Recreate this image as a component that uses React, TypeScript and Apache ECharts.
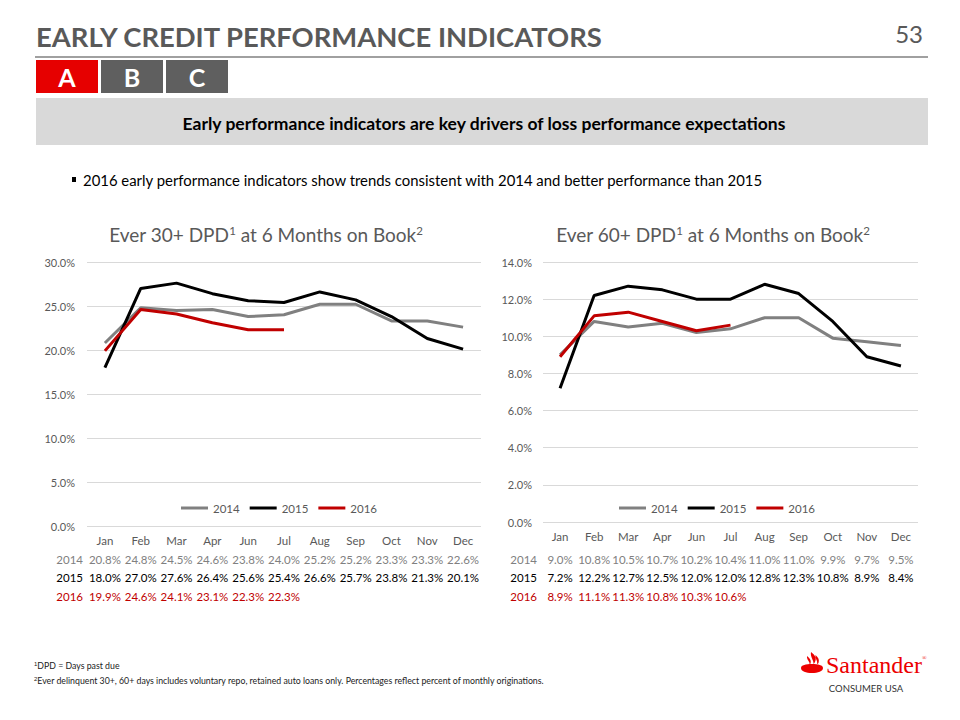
import React, { useEffect, useRef } from 'react';
import * as echarts from 'echarts';

const months = ['Jan', 'Feb', 'Mar', 'Apr', 'Jun', 'Jul', 'Aug', 'Sep', 'Oct', 'Nov', 'Dec'];
const years = ['2014', '2015', '2016'];
const dpd30_2014 = [20.8, 24.8, 24.5, 24.6, 23.8, 24.0, 25.2, 25.2, 23.3, 23.3, 22.6];
const dpd30_2015 = [18.0, 27.0, 27.6, 26.4, 25.6, 25.4, 26.6, 25.7, 23.8, 21.3, 20.1];
const dpd30_2016 = [19.9, 24.6, 24.1, 23.1, 22.3, 22.3];
const dpd60_2014 = [9.0, 10.8, 10.5, 10.7, 10.2, 10.4, 11.0, 11.0, 9.9, 9.7, 9.5];
const dpd60_2015 = [7.2, 12.2, 12.7, 12.5, 12.0, 12.0, 12.8, 12.3, 10.8, 8.9, 8.4];
const dpd60_2016 = [8.9, 11.1, 11.3, 10.8, 10.3, 10.6];
const yAxis30 = { min: 0, max: 30, interval: 5 };
const yAxis60 = { min: 0, max: 14, interval: 2 };

const yearColors = ['#808080', '#000000', '#c00000'];
const FONT = 'Lato, "Open Sans", sans-serif';

const FLAME =
  'M2,16 C2,13 7,12 13,12 C19,12 24,13 24,16 C24,19.5 19,21 13,21 C7,21 2,19.5 2,16 Z ' +
  'M12,0 C16,3 18,6 16,10 C15.5,11 15,11.5 14.5,12 C15,8.5 11,5 12,0 Z ' +
  'M8,4 C11,6.5 12.5,8.5 11.5,11.5 C11.2,12 11,12 10.5,12 C11,9.5 7.5,8 8,4 Z ' +
  'M16.5,3 C19.5,5.5 20.5,8 19.5,11 C19,11.6 18.6,11.8 18,12 C19,9 16,6.5 16.5,3 Z';

echarts.graphic.registerShape('flame', echarts.graphic.extendPath(FLAME, {}));

function fmt(v: number | undefined) {
  return v == null ? '' : v.toFixed(1) + '%';
}

function buildChart(idx: number, data: number[][], yCfg: any, labelMargin: number, axisY: number, rowTops: number[], nameGap: number) {
  const xAxes: any[] = [
    {
      type: 'category',
      gridIndex: idx,
      data: months,
      boundaryGap: true,
      axisLine: { show: false },
      axisTick: { show: false },
      axisLabel: { color: '#595959', fontSize: 11.5, margin: 8, fontFamily: FONT, interval: 0 },
    },
  ];
  years.forEach((y, i) => {
    const row = months.map((_, j) => fmt(data[i][j]));
    xAxes.push({
      type: 'category',
      gridIndex: idx,
      position: 'bottom',
      offset: rowTops[i] - axisY,
      data: row,
      boundaryGap: true,
      axisLine: { show: false },
      axisTick: { show: false },
      splitLine: { show: false },
      axisLabel: { color: yearColors[i], fontSize: 11.5, margin: 0, fontFamily: FONT, interval: 0 },
      name: y,
      nameLocation: 'start',
      nameGap,
      nameTextStyle: { color: yearColors[i], fontSize: 11.5, fontFamily: FONT, verticalAlign: 'top', align: 'right' },
    });
  });
  const yAxis = {
    type: 'value',
    gridIndex: idx,
    min: yCfg.min,
    max: yCfg.max,
    interval: yCfg.interval,
    axisLine: { show: false },
    axisTick: { show: false },
    splitLine: { lineStyle: { color: '#d9d9d9', width: 1 } },
    axisLabel: {
      color: '#595959',
      fontSize: 11,
      margin: labelMargin,
      fontFamily: FONT,
      formatter: (v: number) => v.toFixed(1) + '%',
    },
  };
  const series = years.map((y, i) => ({
    type: 'line',
    name: y,
    xAxisIndex: idx * 4,
    yAxisIndex: idx,
    data: data[i],
    symbol: 'none',
    color: yearColors[i],
    lineStyle: { width: 3, color: yearColors[i] },
  }));
  return { xAxes, yAxis, series };
}

export default function App() {
  const ref = useRef<HTMLDivElement>(null);
  useEffect(() => {
    if (!ref.current) return;
    const chart = echarts.init(ref.current, null, { renderer: 'svg' });
    const left = buildChart(0, [dpd30_2014, dpd30_2015, dpd30_2016], yAxis30, 12, 526, [553, 571, 590], 4);
    const right = buildChart(1, [dpd60_2014, dpd60_2015, dpd60_2016], yAxis60, 11, 522, [553, 571, 590], 6);
    const legendBase = {
      data: years,
      icon: 'rect',
      itemWidth: 27,
      itemHeight: 3,
      itemGap: 10,
      padding: 0,
      textStyle: { color: '#595959', fontSize: 11.5, fontFamily: FONT },
    };
    const titleRich = { s: { fontSize: 11.5, verticalAlign: 'top', fill: '#595959', fontFamily: FONT } };
    const option: any = {
      animation: false,
      backgroundColor: '#ffffff',
      textStyle: { fontFamily: FONT },
      grid: [
        { left: 87, right: 960 - 481, top: 262, bottom: 720 - 526 },
        { left: 543, right: 960 - 918, top: 262, bottom: 720 - 522 },
      ],
      xAxis: [...left.xAxes, ...right.xAxes],
      yAxis: [left.yAxis, right.yAxis],
      series: [...left.series, ...right.series],
      legend: [
        { ...legendBase, left: 181, top: 502 },
        { ...legendBase, left: 619, top: 502 },
      ],
      graphic: [
        {
          type: 'text',
          style: {
            x: 36,
            y: 36,
            text: 'EARLY CREDIT PERFORMANCE INDICATORS',
            font: 'bold 27.4px Lato, sans-serif',
            fill: '#595959',
            verticalAlign: 'middle',
          },
        },
        {
          type: 'text',
          style: { x: 923, y: 33, text: '53', font: '24px Lato, sans-serif', fill: '#595959', align: 'right', verticalAlign: 'middle' },
        },
        { type: 'line', shape: { x1: 35, y1: 57, x2: 928, y2: 57 }, style: { stroke: '#808080', lineWidth: 1.5 } },
        { type: 'rect', shape: { x: 36, y: 60, width: 62, height: 33 }, style: { fill: '#e60000' } },
        { type: 'rect', shape: { x: 101, y: 60, width: 62, height: 33 }, style: { fill: '#5f5f5f' } },
        { type: 'rect', shape: { x: 166, y: 60, width: 62, height: 33 }, style: { fill: '#5f5f5f' } },
        { type: 'text', style: { x: 67, y: 77, text: 'A', font: 'bold 25px Lato, sans-serif', fill: '#ffffff', align: 'center', verticalAlign: 'middle' } },
        { type: 'text', style: { x: 132, y: 77, text: 'B', font: 'bold 25px Lato, sans-serif', fill: '#ffffff', align: 'center', verticalAlign: 'middle' } },
        { type: 'text', style: { x: 197, y: 77, text: 'C', font: 'bold 25px Lato, sans-serif', fill: '#ffffff', align: 'center', verticalAlign: 'middle' } },
        { type: 'rect', shape: { x: 36, y: 98, width: 892, height: 47 }, style: { fill: '#d9d9d9' } },
        {
          type: 'text',
          style: {
            x: 484,
            y: 123,
            text: 'Early performance indicators are key drivers of loss performance expectations',
            font: 'bold 17.5px Lato, sans-serif',
            fill: '#000000',
            align: 'center',
            verticalAlign: 'middle',
          },
        },
        { type: 'rect', shape: { x: 72, y: 177, width: 4, height: 5 }, style: { fill: '#000000' } },
        {
          type: 'text',
          style: {
            x: 83,
            y: 180,
            text: '2016 early performance indicators show trends consistent with 2014 and better performance than 2015',
            font: '14.9px Lato, sans-serif',
            fill: '#000000',
            verticalAlign: 'middle',
          },
        },
        {
          type: 'text',
          style: {
            x: 266,
            y: 234,
            text: 'Ever 30+ DPD{s|1} at 6 Months on Book{s|2}',
            font: '19px Lato, sans-serif',
            fill: '#595959',
            align: 'center',
            verticalAlign: 'middle',
            rich: titleRich,
          },
        },
        {
          type: 'text',
          style: {
            x: 713,
            y: 234,
            text: 'Ever 60+ DPD{s|1} at 6 Months on Book{s|2}',
            font: '19px Lato, sans-serif',
            fill: '#595959',
            align: 'center',
            verticalAlign: 'middle',
            rich: titleRich,
          },
        },
        {
          type: 'text',
          style: {
            x: 34,
            y: 665,
            text: '{s|1}DPD = Days past due',
            font: '8.75px Lato, sans-serif',
            fill: '#222222',
            verticalAlign: 'middle',
            rich: { s: { fontSize: 6, verticalAlign: 'top', fill: '#222222' } },
          },
        },
        {
          type: 'text',
          style: {
            x: 34,
            y: 680,
            text: '{s|2}Ever delinquent 30+, 60+ days includes voluntary repo, retained auto loans only. Percentages reflect percent of monthly originations.',
            font: '8.75px Lato, sans-serif',
            fill: '#222222',
            verticalAlign: 'middle',
            rich: { s: { fontSize: 6, verticalAlign: 'top', fill: '#222222' } },
          },
        },
        { type: 'flame', x: 799, y: 652, scaleX: 1, scaleY: 1, style: { fill: '#ec0000' } },
        {
          type: 'text',
          style: { x: 826, y: 665, text: 'Santander', font: '24px "Liberation Serif", serif', fill: '#ec0000', verticalAlign: 'middle' },
        },
        {
          type: 'text',
          style: { x: 922, y: 658, text: '®', font: '6px "Liberation Serif", serif', fill: '#ec0000', verticalAlign: 'middle' },
        },
        {
          type: 'text',
          style: { x: 866, y: 688, text: 'CONSUMER USA', font: '9.5px Lato, sans-serif', fill: '#333333', align: 'center', verticalAlign: 'middle' },
        },
      ],
    };
    chart.setOption(option);
    return () => chart.dispose();
  }, []);
  return (
    <div
      ref={ref}
      style={{ position: 'fixed', left: 0, top: 0, width: 960, height: 720, background: '#ffffff' }}
    />
  );
}
